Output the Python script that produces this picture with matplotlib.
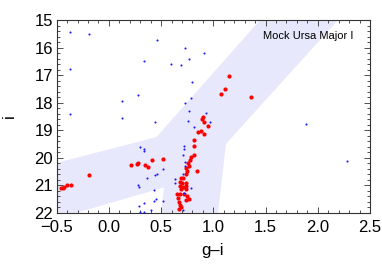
import matplotlib
matplotlib.use("Agg")
import matplotlib.pyplot as plt
from matplotlib.patches import Polygon
from matplotlib.ticker import MultipleLocator
import numpy as np

plt.rcParams['font.family'] = ['Liberation Sans', 'DejaVu Sans']

# Field stars (blue)
blue_gi = [-0.37, -0.19, 0.46, 0.73, 0.34, 0.59, 0.69, 0.77, -0.37, 0.80,
           0.28, 0.13, 0.79, 0.73, 0.77, -0.37, 0.13, 0.44, 0.76, 0.81,
           0.91, 0.93, 0.97, 1.89, 2.28, 0.30, 0.34, 0.34, 0.72, 0.72,
           0.71, 0.73, 0.73, 0.52, 0.46, 0.44, 0.36, 0.63, 0.63, 0.71,
           0.79, 0.28, 0.29, 0.43, 0.72, 0.45, 0.43, 0.52, 0.34, 0.29,
           0.40, 0.30, 0.34, 0.71]
blue_i = [15.45, 15.50, 15.72, 16.03, 16.48, 16.59, 16.65, 16.41, 16.77, 17.26,
          17.72, 17.93, 17.83, 18.00, 18.31, 18.40, 18.57, 18.71, 18.66, 18.89,
          16.20, 18.39, 18.71, 18.78, 20.11, 19.60, 19.70, 19.76, 19.59, 19.70,
          19.90, 20.17, 20.30, 20.41, 20.59, 20.62, 20.74, 20.79, 20.92, 20.59,
          21.10, 21.01, 21.07, 21.18, 21.27, 21.50, 21.59, 21.56, 21.66, 21.77,
          21.90, 21.96, 21.97, 21.92]

# Member stars (red)
red_gi = [1.15, 1.11, 1.07, 1.36, 0.90, 0.89, 0.91, 0.95, 0.85, 0.88,
          0.91, 0.81, 0.81, 0.81, 0.79, 0.78, 0.76, 0.77, 0.74, 0.75,
          0.74, 0.84, 0.69, 0.71, 0.68, 0.70, 0.74, 0.68, 0.71, 0.74,
          0.69, 0.74, 0.65, 0.68, 0.72, 0.75, 0.77, 0.74, 0.66, 0.67,
          0.68, 0.69, 0.67, -0.46, -0.44, -0.43, -0.40, -0.36, -0.19, 0.21,
          0.27, 0.28, 0.35, 0.37, 0.41, 0.52]
red_i = [17.04, 17.50, 17.68, 17.81, 18.51, 18.61, 18.72, 18.85, 19.07, 19.04,
         19.13, 19.35, 19.59, 19.89, 19.99, 20.09, 20.21, 20.30, 20.39, 20.47,
         20.59, 20.47, 20.75, 20.75, 20.87, 20.93, 20.93, 21.03, 21.05, 21.03,
         21.15, 21.15, 21.32, 21.33, 21.33, 21.39, 21.51, 21.54, 21.48, 21.60,
         21.72, 21.80, 21.88, 21.11, 21.10, 21.05, 21.00, 20.98, 20.64, 20.27,
         20.23, 20.18, 20.27, 20.33, 20.09, 20.05]

# Selection region outline (g-i, i)
sel_gi = [-0.5, 0.456, 1.447, 2.194, 1.121, 1.045, 0.499, 0.528, -0.306, -0.5]
sel_i = [20.19, 19.25, 15.0, 15.0, 19.50, 22.0, 22.0, 21.08, 22.0, 22.0]

x_ticks = [-0.5, 0.0, 0.5, 1.0, 1.5, 2.0, 2.5]
y_ticks = [15, 16, 17, 18, 19, 20, 21, 22]

fig = plt.figure(figsize=(3.82, 2.70), dpi=100)
ax = fig.add_axes([56.7/382, 1-212.7/270, (370-56.7)/382, (212.7-20)/270])

ax.add_patch(Polygon(np.column_stack([sel_gi, sel_i]), closed=True,
                     facecolor=(0.91, 0.91, 0.99), edgecolor='none', zorder=1))
ax.plot(red_gi, red_i, 'o', color=(1.0, 0.0, 0.0), ms=3.0, mew=0, zorder=3)
ax.plot(blue_gi, blue_i, 'o', color=(0.1, 0.1, 1.0), ms=1.5, mew=0, zorder=4)

ax.set_xlim(-0.5, 2.5)
ax.set_ylim(22, 15)
ax.set_xticks(x_ticks)
ax.set_xticklabels([f"{v:.1f}".replace('-', '\u2212') for v in x_ticks])
ax.set_yticks(y_ticks)
ax.set_yticklabels([str(v) for v in y_ticks])
ax.xaxis.set_minor_locator(MultipleLocator(0.1))
ax.yaxis.set_minor_locator(MultipleLocator(0.2))
ax.tick_params(which='both', direction='in', top=True, right=True,
               color='#333333', width=0.6)
ax.tick_params(which='major', length=4, labelsize=12)
ax.tick_params(axis='x', which='major', pad=5)
ax.tick_params(axis='y', which='major', pad=2.5)
ax.tick_params(which='minor', length=2)
for s in ax.spines.values():
    s.set_color('#333333')
    s.set_linewidth(0.8)

ax.text(1.473, 15.58, "Mock Ursa Major I", fontsize=8, ha='left', va='center', zorder=5)

fig.text(212.5/382, 1-251/270, "g\u2013i", fontsize=12, ha='center', va='center')
fig.text(9.7/382, 1-116/270, "i", fontsize=12, ha='center', va='center', rotation=90)

fig.savefig('out.png', dpi=100)
